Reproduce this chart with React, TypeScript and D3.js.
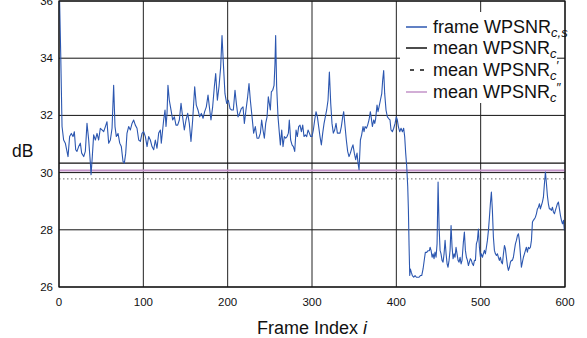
import React from 'react'
import * as d3 from 'd3'

// frame index and per-frame WPSNR (dB)
const frameIdx = [
  0, 2, 3.6, 5.5, 7.5, 10.7, 12.6, 14.6, 16.6, 18.2, 19.8, 21.3, 23.3, 25.3, 26.9, 29.3, 31.2, 33.2, 35.2, 37.2,
  38.0, 39.5, 41.1, 43.1, 45.1, 47.0, 49.0, 51.0, 53.0, 55.0, 56.9, 58.9, 60.9, 62.9, 64.8, 66.4, 68.0, 70.0, 72.0, 73.9,
  75.9, 77.5, 79.1, 80.6, 82.6, 84.6, 86.6, 88.5, 90.5, 92.5, 94.5, 96.5, 98.4, 100.4, 102.4, 104.4, 106.3, 108.3, 110.3, 112.3,
  114.2, 116.2, 118.2, 120.2, 121.3, 122.9, 124.1, 125.7, 126.9, 128.1, 129.2, 130.8, 132.8, 134.8, 136.8, 138.7, 140.7, 142.7, 144.7, 146.6,
  148.6, 150.6, 152.6, 154.5, 156.5, 158.5, 160.9, 162.8, 164.8, 166.8, 168.8, 170.8, 172.7, 174.7, 176.7, 178.3, 180.2, 182.2, 184.2, 185.8,
  187.8, 189.7, 191.7, 193.3, 194.9, 196.8, 198.8, 200.8, 202.8, 204.7, 206.7, 208.7, 210.3, 212.3, 214.2, 216.2, 218.2, 219.8, 221.7, 223.7,
  225.3, 226.9, 228.9, 230.8, 232.8, 234.8, 236.8, 238.8, 240.3, 241.9, 243.5, 245.1, 246.7, 248.2, 249.4, 250.6, 251.8, 253.4, 255.0, 256.1,
  256.9, 258.1, 259.7, 261.3, 262.5, 264.1, 265.6, 267.2, 268.8, 270.4, 272.0, 273.1, 274.7, 276.3, 277.9, 279.5, 281.1, 282.6, 284.2, 285.8,
  287.4, 289.0, 290.5, 292.1, 293.7, 295.3, 296.9, 298.4, 300.0, 301.6, 303.2, 304.8, 306.4, 307.9, 309.5, 311.1, 312.7, 314.3, 315.8, 317.4,
  319.0, 320.6, 322.2, 323.7, 325.3, 326.9, 328.5, 330.1, 331.6, 333.2, 334.8, 336.4, 337.6, 339.2, 340.7, 342.3, 343.9, 345.5, 347.1, 348.6,
  350.2, 351.8, 353.4, 354.6, 355.8, 357.4, 358.9, 360.5, 361.7, 362.9, 364.5, 366.0, 367.6, 369.2, 370.4, 371.6, 373.2, 374.4, 375.5, 377.1,
  378.3, 379.5, 381.1, 382.7, 383.8, 385.0, 386.2, 387.8, 389.4, 390.9, 392.5, 393.7, 395.3, 396.9, 398.5, 400.0, 401.2, 402.4, 404.0, 405.6,
  407.2, 408.7, 409.9, 411.1, 412.3, 413.5, 414.3, 415.1, 415.9, 416.6, 417.8, 419.0, 420.6, 422.2, 423.8, 425.3, 426.9, 428.5, 430.1, 431.7,
  433.3, 434.4, 436.0, 437.6, 439.2, 440.0, 441.2, 442.4, 443.6, 444.7, 445.9, 447.1, 448.3, 449.5, 450.7, 451.9, 453.0, 454.2, 455.4, 456.6,
  457.8, 459.0, 460.2, 461.3, 462.5, 463.7, 464.9, 466.1, 467.3, 468.5, 469.6, 470.8, 472.0, 473.2, 474.4, 475.6, 476.8, 477.9, 479.5, 480.7,
  481.9, 483.1, 484.3, 485.5, 486.6, 487.8, 489.0, 490.2, 491.4, 492.6, 493.8, 494.9, 496.1, 497.3, 498.5, 499.7, 500.9, 502.1, 503.2, 504.4,
  505.6, 506.8, 508.0, 509.2, 510.4, 511.5, 512.7, 513.9, 515.1, 516.3, 517.5, 518.7, 519.9, 521.0, 522.2, 523.4, 524.6, 525.8, 527.0, 528.2,
  529.3, 530.5, 531.7, 532.9, 534.1, 535.3, 536.5, 537.6, 538.8, 540.0, 541.2, 542.4, 543.6, 544.8, 545.9, 547.1, 548.3, 549.5, 550.7, 551.9,
  553.1, 554.2, 555.4, 556.6, 557.8, 559.0, 560.2, 561.4, 562.5, 563.7, 564.9, 566.1, 567.3, 568.5, 569.7, 570.8, 572.0, 573.2, 574.4, 575.6,
  576.8, 578.0, 579.1, 580.3, 581.5, 582.7, 583.9, 585.1, 586.3, 587.5, 588.6, 589.8, 591.0, 592.2, 593.4, 594.6, 595.8, 597.0, 598.2, 599.3,
]
const frameWpsnr = [
  37.0, 34.2, 31.61, 31.14, 31.03, 30.56, 31.26, 31.37, 31.26, 31.43, 30.8, 30.74, 30.91, 31.03, 30.68, 30.56, 30.74, 31.72, 31.14, 30.33,
  29.93, 30.56, 31.32, 31.14, 31.37, 31.14, 31.55, 31.49, 31.43, 31.61, 31.78, 31.03, 31.14, 31.55, 33.05, 31.61, 31.26, 31.37, 31.03, 30.91,
  30.39, 30.33, 30.68, 31.37, 31.61, 31.49, 31.72, 31.84, 31.66, 31.55, 31.14, 31.09, 31.37, 31.43, 31.26, 30.91, 31.26, 31.14, 30.91, 30.8,
  31.14, 30.85, 31.38, 31.49, 31.03, 31.49, 31.84, 32.19, 31.61, 32.07, 33.05, 32.53, 32.19, 31.84, 31.95, 31.66, 31.66, 31.84, 32.42, 31.95,
  31.49, 31.84, 32.07, 31.72, 31.09, 31.84, 33.0, 32.36, 32.19, 31.95, 32.07, 31.9, 32.13, 32.3, 32.71, 32.3, 31.84, 32.3, 33.0, 33.46,
  32.53, 33.0, 33.69, 34.79, 33.81, 32.76, 32.42, 32.53, 32.24, 32.19, 32.19, 32.88, 32.42, 31.95, 32.07, 32.24, 32.3, 31.72, 32.19, 32.65,
  33.11, 32.53, 31.95, 31.38, 31.61, 31.2, 31.2, 31.38, 31.84, 31.49, 31.2, 31.72, 31.95, 32.65, 32.42, 32.19, 32.82, 32.88, 33.05, 33.81,
  34.79, 33.0, 31.95, 31.38, 30.97, 31.49, 30.91, 31.26, 31.2, 31.26, 31.38, 31.84, 31.14, 30.97, 30.91, 30.74, 31.49, 31.26, 31.61, 31.66,
  31.43, 31.66, 31.26, 31.32, 31.26, 31.49, 31.38, 31.26, 31.26, 31.49, 31.84, 32.13, 31.95, 31.61, 31.26, 30.97, 31.38, 31.72, 31.95, 32.19,
  32.53, 33.52, 32.42, 31.72, 31.38, 31.49, 31.72, 31.38, 31.38, 31.38, 31.61, 31.95, 32.13, 31.61, 31.14, 30.74, 30.56, 30.68, 30.85, 30.97,
  30.68, 30.45, 30.68, 30.33, 30.1, 31.14, 31.32, 31.61, 31.43, 31.61, 31.55, 31.66, 31.84, 32.13, 31.89, 31.61, 31.84, 31.72, 31.89, 32.36,
  32.13, 32.3, 32.53, 32.76, 33.23, 33.57, 32.76, 32.18, 31.95, 31.89, 31.84, 31.49, 31.43, 31.55, 31.72, 31.95, 31.84, 31.61, 31.43, 31.55,
  31.43, 31.55, 31.26, 30.68, 30.22, 29.52, 28.71, 27.44, 26.4, 26.63, 26.51, 26.4, 26.34, 26.4, 26.34, 26.34, 26.34, 26.4, 26.4, 26.63,
  26.98, 27.21, 27.21, 27.27, 27.27, 27.39, 27.28, 27.04, 27.16, 26.99, 27.22, 27.04, 27.51, 29.67, 28.09, 27.28, 27.16, 26.93, 26.87, 27.16,
  27.63, 27.16, 26.81, 26.69, 26.93, 27.28, 28.15, 27.39, 26.99, 27.16, 27.04, 27.39, 27.16, 26.93, 26.87, 27.04, 26.81, 26.93, 27.57, 27.92,
  27.28, 27.04, 26.93, 26.75, 26.87, 26.99, 26.93, 26.81, 26.75, 26.93, 26.93, 27.51, 27.63, 28.03, 27.39, 27.04, 27.16, 27.04, 27.16, 27.28,
  27.16, 27.39, 27.63, 27.98, 28.44, 28.91, 29.32, 28.68, 27.74, 27.28, 27.16, 27.1, 27.16, 27.04, 26.93, 27.04, 26.87, 26.81, 27.16, 27.45,
  27.34, 27.04, 26.75, 26.58, 26.69, 26.87, 26.93, 26.93, 27.04, 27.28, 27.51, 27.63, 27.8, 27.86, 27.63, 27.16, 26.69, 26.87, 27.04, 27.16,
  27.28, 27.39, 27.22, 27.39, 27.34, 27.39, 27.63, 28.27, 28.33, 28.38, 28.44, 28.56, 28.73, 28.79, 28.91, 28.73, 28.85, 28.97, 29.14, 29.61,
  30.02, 29.61, 29.2, 28.91, 28.73, 28.73, 28.68, 28.79, 28.62, 28.56, 28.68, 28.79, 28.91, 28.97, 28.73, 28.5, 28.33, 28.21, 28.33, 27.98,
]

// sequence means (dB)
const meanWpsnr = 30.33
const meanWpsnrPrime = 29.78
const meanWpsnrDoublePrime = 30.07

const xTicks = [0, 100, 200, 300, 400, 500, 600]
const yTicks = [26, 28, 30, 32, 34, 36]

const W = 587
const H = 338
const left = 59
const right = 565
const top = 1
const bottom = 287
const blue = '#2c57b0'
const purple = '#c393c8'
const font = '"Liberation Sans", Arial, sans-serif'

export default function App() {
  const x = d3.scaleLinear().domain([0, 600]).range([left, right])
  const y = d3.scaleLinear().domain([26, 36]).range([bottom, top])
  const pts = frameIdx.map((f, i) => [f, frameWpsnr[i]] as [number, number])
  const line = d3
    .line<[number, number]>()
    .x(d => x(d[0]))
    .y(d => y(d[1]))

  const legendY = [27, 48, 70, 92]

  return (
    <svg
      width={W}
      height={H}
      style={{ position: 'absolute', left: 0, top: 0, background: '#fff' }}
      fontFamily={font}
    >
      <defs>
        <clipPath id="plot">
          <rect x={left} y={top} width={right - left} height={bottom - top} />
        </clipPath>
      </defs>
      {/* grid */}
      {yTicks.map(t => (
        <line key={'gy' + t} x1={left} x2={right} y1={y(t)} y2={y(t)} stroke="#111" strokeWidth={1} />
      ))}
      {xTicks.map(t => (
        <line key={'gx' + t} x1={x(t)} x2={x(t)} y1={top} y2={bottom} stroke="#222" strokeWidth={1} />
      ))}
      {/* means */}
      <line x1={left} x2={right} y1={y(meanWpsnr)} y2={y(meanWpsnr)} stroke="#111" strokeWidth={1.2} />
      <line
        x1={left}
        x2={right}
        y1={y(meanWpsnrPrime)}
        y2={y(meanWpsnrPrime)}
        stroke="#666"
        strokeWidth={1}
        strokeDasharray="1.5,2.5"
      />
      <line
        x1={left}
        x2={right}
        y1={y(meanWpsnrDoublePrime)}
        y2={y(meanWpsnrDoublePrime)}
        stroke={purple}
        strokeWidth={2}
      />
      {/* frame series */}
      <path
        d={line(pts) || ''}
        fill="none"
        stroke={blue}
        strokeWidth={1.1}
        strokeLinejoin="round"
        clipPath="url(#plot)"
      />
      {/* frame */}
      <rect x={left} y={top} width={right - left} height={bottom - top} fill="none" stroke="#111" strokeWidth={1.2} />

      {/* tick labels */}
      {yTicks.map(t => (
        <text key={'ly' + t} x={53} y={y(t)} dy="0.35em" textAnchor="end" fontSize={11.5} fill="#111">
          {t}
        </text>
      ))}
      {xTicks.map(t => (
        <text key={'lx' + t} x={x(t)} y={306} textAnchor="middle" fontSize={11.5} fill="#111">
          {t}
        </text>
      ))}
      <text x={(left + right) / 2} y={334} textAnchor="middle" fontSize={18} fill="#111">
        Frame Index <tspan fontStyle="italic">i</tspan>
      </text>
      <text x={12} y={157} fontSize={17.5} fill="#111">
        dB
      </text>

      {/* legend */}
      <rect x={400} y={12} width={157} height={91} fill="#fff" />
      <line x1={406} x2={427} y1={legendY[0]} y2={legendY[0]} stroke={blue} strokeWidth={1.5} />
      <line x1={406} x2={427} y1={legendY[1]} y2={legendY[1]} stroke="#111" strokeWidth={1.5} />
      <line x1={410} x2={428} y1={legendY[2]} y2={legendY[2]} stroke="#111" strokeWidth={1.5} strokeDasharray="4,6" />
      <line x1={406} x2={427} y1={legendY[3]} y2={legendY[3]} stroke={purple} strokeWidth={1.5} />
      <text x={433} y={legendY[0] + 6} fontSize={18} fill="#111">
        frame WPSNR
        <tspan fontStyle="italic" fontSize={13} dy={4}>
          c,s
        </tspan>
      </text>
      <text x={433} y={legendY[1] + 6} fontSize={18} fill="#111">
        mean WPSNR
        <tspan fontStyle="italic" fontSize={13} dy={4}>
          c
        </tspan>
      </text>
      <text x={433} y={legendY[2] + 6} fontSize={18} fill="#111">
        mean WPSNR
        <tspan fontStyle="italic" fontSize={13} dy={4}>
          c
        </tspan>
        <tspan fontSize={13} dy={-10}>
          ′
        </tspan>
      </text>
      <text x={433} y={legendY[3] + 6} fontSize={18} fill="#111">
        mean WPSNR
        <tspan fontStyle="italic" fontSize={13} dy={4}>
          c
        </tspan>
        <tspan fontSize={13} dy={-10}>
          ″
        </tspan>
      </text>
    </svg>
  )
}
